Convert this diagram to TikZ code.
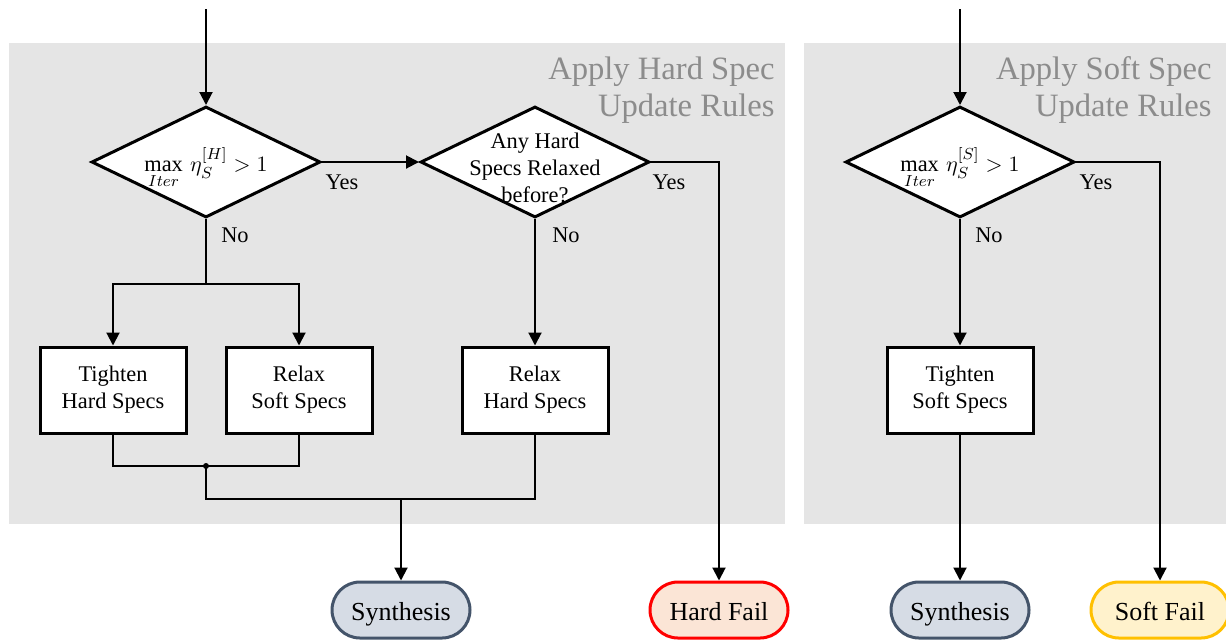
\documentclass[tikz,border=0pt]{standalone}
\usepackage{fontspec}
\setmainfont{Liberation Serif}
\usetikzlibrary{shapes.geometric,arrows.meta,calc}

\definecolor{panel}{HTML}{E5E5E5}
\definecolor{titlegray}{HTML}{8C8C8C}
\definecolor{synfill}{HTML}{D6DCE5}
\definecolor{synline}{HTML}{44546A}
\definecolor{hardfill}{HTML}{FBE5D6}
\definecolor{hardline}{HTML}{FF0000}
\definecolor{softfill}{HTML}{FFF2CC}
\definecolor{softline}{HTML}{FFC000}

\begin{document}
\begin{tikzpicture}[x=0.5pt,y=-0.5pt,
  font=\fontsize{11.2}{13.5}\selectfont,
  decision/.style={diamond, draw, line width=1.5pt, fill=white,
    minimum width=114.5pt, minimum height=55.5pt, inner sep=0pt},
  question/.style={align=center, yshift=-3pt, inner sep=0pt},
  action/.style={rectangle, draw, line width=1.5pt, fill=white,
    minimum width=73pt, minimum height=43pt, align=center,
    execute at begin node={\rule{0pt}{11pt}}},
  terminal/.style={rectangle, draw, rounded corners=14pt, line width=1.5pt,
    minimum width=69pt, minimum height=28pt, font=\fontsize{13}{15}\selectfont,
    text height=11.6pt, text depth=1.2pt},
  flow/.style={line width=1pt},
  arrow/.style={flow, -{Triangle[length=6.5pt,width=6.5pt]}},
  answer/.style={inner sep=0pt},
  paneltitle/.style={text=titlegray, font=\fontsize{16.3}{19}\selectfont,
    inner sep=0pt, anchor=base east},
]
\useasboundingbox (0,0) rectangle (1226,639);

% background panels
\fill[panel] (9,43) rectangle (785,524);
\fill[panel] (804,43) rectangle (1226,524);

\node[paneltitle] (th1) at (775,79) {Apply Hard Spec};
\node[paneltitle] (th2) at (775,116) {Update Rules};
\node[paneltitle] (ts1) at (1212,79) {Apply Soft Spec};
\node[paneltitle] (ts2) at (1212,116) {Update Rules};

% hard spec rules
\node[decision, label={[question]center:{$\max\limits_{Iter}\,\eta_S^{[H]} > 1$}}] (d1) at (206,162) {};
\node[decision, label={[question]center:{Any Hard\\Specs Relaxed\\before?}}] (d2) at (535,162) {};
\node[action] (b1) at (113,390) {Tighten\\Hard Specs};
\node[action] (b2) at (299,390) {Relax\\Soft Specs};
\node[action] (b3) at (535,390) {Relax\\Hard Specs};

% soft spec rules
\node[decision, label={[question]center:{$\max\limits_{Iter}\,\eta_S^{[S]} > 1$}}] (d3) at (960,162) {};
\node[action] (b4) at (960,390) {Tighten\\Soft Specs};

% outcomes
\node[terminal, fill=synfill, draw=synline] (syn1) at (401,610) {Synthesis};
\node[terminal, fill=hardfill, draw=hardline] (hf) at (719,610) {Hard Fail};
\node[terminal, fill=synfill, draw=synline] (syn2) at (960,610) {Synthesis};
\node[terminal, fill=softfill, draw=softline] (sf) at (1160,610) {Soft Fail};

% helper points
\coordinate (in1) at (206,9);
\coordinate (in2) at (960,9);
\coordinate (split) at (206,284);
\coordinate (join) at (206,466);
\coordinate (merge) at (401,499);

% connectors
\draw[arrow] (in1) -- (d1.north);
\draw[arrow] (d1.east) -- (d2.west);
\draw[arrow] (d2.east) -| (hf.north);
\draw[flow] (d1.south) -- (split);
\draw[arrow] (split) -| (b1.north);
\draw[arrow] (split) -| (b2.north);
\draw[arrow] (d2.south) -- (b3.north);
\draw[flow] (b1.south) |- (join) -| (b2.south);
\draw[flow] (join) |- (merge) -| (b3.south);
\draw[arrow] (merge) -- (syn1.north);
\fill (join) circle (3);

\draw[arrow] (in2) -- (d3.north);
\draw[arrow] (d3.south) -- (b4.north);
\draw[arrow] (b4.south) -- (syn2.north);
\draw[arrow] (d3.east) -| (sf.north);

% branch labels
\node[answer] (y1) at (342,182) {Yes};
\node[answer] (n1) at (235,235) {No};
\node[answer] (y2) at (669,182) {Yes};
\node[answer] (n2) at (566,235) {No};
\node[answer] (y3) at (1096,182) {Yes};
\node[answer] (n3) at (989,235) {No};
\end{tikzpicture}
\end{document}
